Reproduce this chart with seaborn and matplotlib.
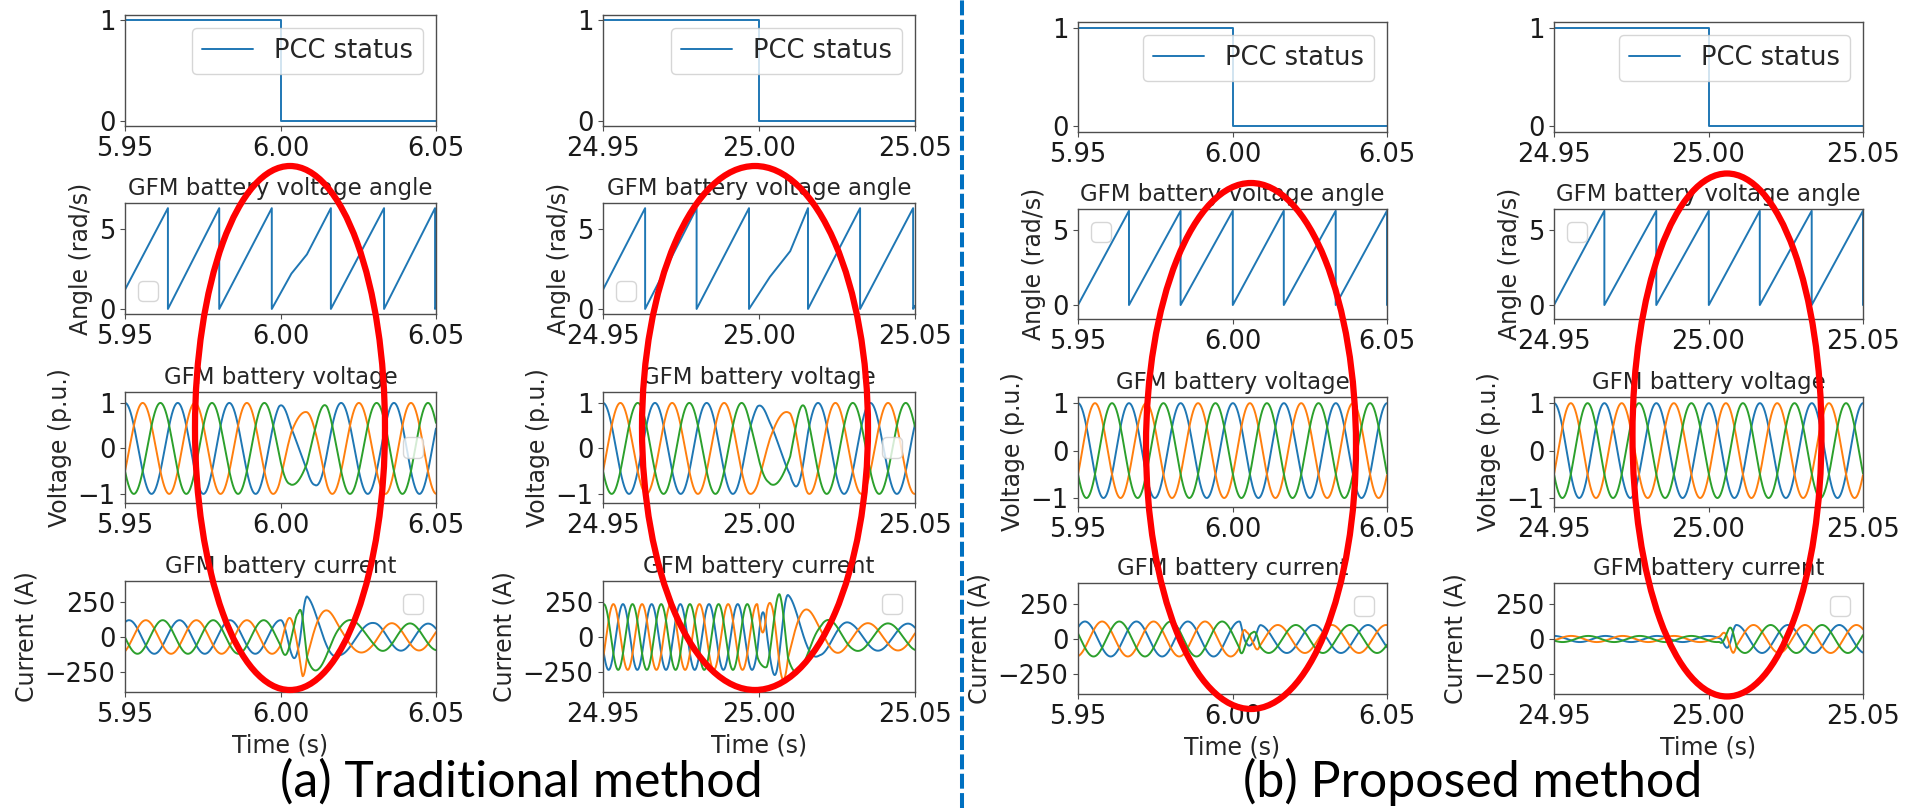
import matplotlib
matplotlib.use("Agg")
import matplotlib.pyplot as plt
import matplotlib.patches as mpatches
from matplotlib.lines import Line2D
from matplotlib.ticker import FormatStrFormatter
import numpy as np
import pandas as pd
import seaborn as sns

W, H = 1905, 808
TWO_PI = 6.28

# PCC breaker status around the islanding instant
pcc_a_t = [5.95, 6.00, 6.00, 6.05]
pcc_b_t = [24.95, 25.00, 25.00, 25.05]
pcc_val = [1, 1, 0, 0]

# GFM battery voltage angle (rad), corner points of the sawtooth
ang_a_t = [5.95, 5.9638, 5.9638, 5.9803, 5.9803, 5.9972, 5.9972, 6.0035, 6.0085,
           6.0162, 6.0162, 6.0333, 6.0333, 6.0497, 6.0497, 6.05]
ang_a = [1.2, 6.28, 0, 6.28, 0, 6.28, 0, 2.2, 3.4, 6.28, 0, 6.28, 0, 6.28, 0, 0.1]
ang_b_t = [24.95, 24.9635, 24.9635, 24.980, 24.980, 24.9968, 24.9968, 25.0035, 25.010,
           25.0157, 25.0157, 25.0324, 25.0324, 25.0494, 25.0494, 25.05]
ang_b = [1.2, 6.28, 0, 6.28, 0, 6.28, 0, 2.0, 3.6, 6.28, 0, 6.28, 0, 6.28, 0, 0.2]
ang_c_t = [5.95, 5.9665, 5.9665, 5.9832, 5.9832, 6.0001, 6.0001, 6.0166, 6.0166,
           6.0334, 6.0334, 6.05, 6.05]
ang_c = [0, 6.28, 0, 6.28, 0, 6.28, 0, 6.28, 0, 6.28, 0, 6.28, 0]
ang_d_t = [24.95, 24.9663, 24.9663, 24.9831, 24.9831, 25.0001, 25.0001, 25.0166, 25.0166,
           25.0334, 25.0334, 25.05, 25.05]
ang_d = [0, 6.28, 0, 6.28, 0, 6.28, 0, 6.28, 0, 6.28, 0, 6.28, 0]

# voltage magnitude (p.u.) read at a few instants, and angle offset of phase a
vamp_a_t = [5.95, 5.9995, 6.003, 6.011, 6.015, 6.05]
vamp_b_t = [24.95, 24.9995, 25.003, 25.011, 25.015, 25.05]
vamp_ab = [1.0, 1.0, 0.8, 0.8, 1.0, 1.0]
vamp_c_t = [5.95, 6.05]
vamp_d_t = [24.95, 25.05]
vamp_cd = [1.0, 1.0]
v_offset_trad = 1.2
v_offset_prop = 0.0

# battery current: phase of phase a (rad) and peak value (A) at read instants
cur_a_psi_t = [5.95, 6.000, 6.0085, 6.019, 6.030, 6.0475, 6.05]
cur_a_psi = [-0.5, 18.85, 25.13, 28.27, 31.42, 37.70, 38.6]
cur_a_amp_t = [5.95, 6.000, 6.0035, 6.0057, 6.0071, 6.0085, 6.0122, 6.0155, 6.019,
               6.023, 6.030, 6.05]
cur_a_amp = [120, 120, 140, 170, 280, 290, 230, 185, 130, 120, 100, 95]

# traditional at 25 s: negative-sequence ripple before, swing after
cur_b_pre_psi_t = [24.95, 25.0025]
cur_b_pre_psi = [-4.37, 31.5]
cur_b_pre_amp_t = [24.95, 25.0025]
cur_b_pre_amp = [235, 235]
cur_b_psi_t = [24.9995, 25.0093, 25.0194, 25.0285, 25.0478, 25.05]
cur_b_psi = [18.2, 25.13, 28.27, 31.42, 37.70, 38.5]
cur_b_amp_t = [24.9995, 25.004, 25.0066, 25.0093, 25.0125, 25.016, 25.0194, 25.023,
               25.03, 25.05]
cur_b_amp = [200, 250, 310, 300, 250, 190, 130, 120, 100, 95]
cur_b_blend = [24.9995, 25.0025]

cur_c_psi_t = [5.95, 6.0022, 6.0088, 6.05]
cur_c_psi = [-0.85, 18.85, 25.13, 39.9]
cur_c_amp_t = [5.95, 6.0025, 6.0045, 6.0065, 6.009, 6.05]
cur_c_amp = [125, 125, 50, 45, 100, 100]

cur_d_psi_t = [24.95, 25.004, 25.009, 25.05]
cur_d_psi = [0, 20.36, 25.13, 40.6]
cur_d_amp_t = [24.95, 25.0035, 25.008, 25.05]
cur_d_amp = [22, 22, 100, 100]

PAL = ['#1f77b4', '#ff7f0e', '#2ca02c']


def unwrap(ts, vs):
    out_t, out_v, off, prev = [], [], 0.0, None
    for t, v in zip(ts, vs):
        if prev is not None and v < prev - 3:
            off += TWO_PI
            prev = v
            continue
        out_t.append(t)
        out_v.append(v + off)
        prev = v
    return np.array(out_t), np.array(out_v)


def three_phase(amp, phase, seq=1):
    return [amp * np.cos(phase - seq * k * 2 * np.pi / 3) for k in range(3)]


def to_frame(t, vals):
    return pd.concat([pd.DataFrame({'t': t, 'y': v, 'phase': str(k)})
                      for k, v in enumerate(vals)], ignore_index=True)


def voltage(ang_t, ang, va_t, va, off, t0):
    t = np.linspace(t0, t0 + 0.1, 3000)
    ut, uv = unwrap(ang_t, ang)
    theta = np.interp(t, ut, uv)
    return to_frame(t, three_phase(np.interp(t, va_t, va), theta - off))


def current(psi_t, psi, amp_t, amp, t0, seq=1):
    t = np.linspace(t0, t0 + 0.1, 3000)
    return t, three_phase(np.interp(t, amp_t, amp), np.interp(t, psi_t, psi), seq)


# current frames
t, ia = current(cur_a_psi_t, cur_a_psi, cur_a_amp_t, cur_a_amp, 5.95)
cur_a_df = to_frame(t, ia)
t, ib_pre = current(cur_b_pre_psi_t, cur_b_pre_psi, cur_b_pre_amp_t, cur_b_pre_amp, 24.95, seq=-1)
t, ib_post = current(cur_b_psi_t, cur_b_psi, cur_b_amp_t, cur_b_amp, 24.95)
w = np.clip((t - cur_b_blend[0]) / (cur_b_blend[1] - cur_b_blend[0]), 0, 1)
cur_b_df = to_frame(t, [(1 - w) * p + w * q for p, q in zip(ib_pre, ib_post)])
t, ic = current(cur_c_psi_t, cur_c_psi, cur_c_amp_t, cur_c_amp, 5.95)
cur_c_df = to_frame(t, ic)
t, idd = current(cur_d_psi_t, cur_d_psi, cur_d_amp_t, cur_d_amp, 24.95)
cur_d_df = to_frame(t, idd)

volt_a_df = voltage(ang_a_t, ang_a, vamp_a_t, vamp_ab, v_offset_trad, 5.95)
volt_b_df = voltage(ang_b_t, ang_b, vamp_b_t, vamp_ab, v_offset_trad, 24.95)
volt_c_df = voltage(ang_c_t, ang_c, vamp_c_t, vamp_cd, v_offset_prop, 5.95)
volt_d_df = voltage(ang_d_t, ang_d, vamp_d_t, vamp_cd, v_offset_prop, 24.95)

columns = [
    dict(t0=5.95, pcc_t=pcc_a_t, ang_t=ang_a_t, ang=ang_a, volt=volt_a_df, cur=cur_a_df, side='L'),
    dict(t0=24.95, pcc_t=pcc_b_t, ang_t=ang_b_t, ang=ang_b, volt=volt_b_df, cur=cur_b_df, side='L'),
    dict(t0=5.95, pcc_t=pcc_a_t, ang_t=ang_c_t, ang=ang_c, volt=volt_c_df, cur=cur_c_df, side='R'),
    dict(t0=24.95, pcc_t=pcc_b_t, ang_t=ang_d_t, ang=ang_d, volt=volt_d_df, cur=cur_d_df, side='R'),
]

sns.set_style('ticks')
plt.rcParams['font.family'] = ['DejaVu Sans']
plt.rcParams['axes.edgecolor'] = '0.3'
plt.rcParams['axes.linewidth'] = 1.0
plt.rcParams['xtick.color'] = '0.3'
plt.rcParams['ytick.color'] = '0.3'
plt.rcParams['xtick.labelcolor'] = '0.1'
plt.rcParams['ytick.labelcolor'] = '0.1'
plt.rcParams['xtick.major.size'] = 3.5
plt.rcParams['ytick.major.size'] = 3.5
plt.rcParams['xtick.labelsize'] = 18.5
plt.rcParams['ytick.labelsize'] = 18.5

fig = plt.figure(figsize=(W / 100, H / 100), dpi=100)

cols_x = [(125, 436), (603, 915), (1078, 1387), (1554, 1863)]
rows_y = {'L': [(15, 126), (203, 314), (392, 503), (581, 692)],
          'R': [(22, 132), (209, 319), (397, 507), (583, 694)]}
ylims = {'L': [(-0.05, 1.05), (-0.314, 6.6), (-1.2, 1.24), (-393, 400)],
         'R': [(-0.06, 1.06), (-0.93, 6.4), (-1.19, 1.13), (-393, 400)]}
yticks = [[0, 1], [0, 5], [-1, 0, 1], [-250, 0, 250]]
titles = [None, 'GFM battery voltage angle', 'GFM battery voltage', 'GFM battery current']
ylabels = [None, 'Angle (rad/s)', 'Voltage (p.u.)', 'Current (A)']
empty_leg = {'L': [None, 'lower left', 'center right', 'upper right'],
             'R': [None, 'upper left', None, 'upper right']}


def make_ax(xr, yr):
    l, r = xr
    top, bot = yr
    return fig.add_axes([l / W, 1 - bot / H, (r - l) / W, (bot - top) / H])


for ci, col in enumerate(columns):
    side = col['side']
    for ri in range(4):
        ax = make_ax(cols_x[ci], rows_y[side][ri])
        if ri == 0:
            sns.lineplot(x=col['pcc_t'], y=pcc_val, ax=ax, color=PAL[0], lw=1.4,
                         estimator=None, sort=False, label='PCC status')
            ax.legend(loc='upper right', fontsize=18.5)
        elif ri == 1:
            sns.lineplot(x=col['ang_t'], y=col['ang'], ax=ax, color=PAL[0], lw=1.4,
                         estimator=None, sort=False)
        else:
            df = col['volt'] if ri == 2 else col['cur']
            sns.lineplot(data=df, x='t', y='y', hue='phase', palette=PAL, ax=ax,
                         lw=1.4, estimator=None, sort=False, legend=False)
        if ri > 0 and empty_leg[side][ri]:
            ax.legend(handles=[], loc=empty_leg[side][ri], fontsize=18.5)
        t0 = col['t0']
        ax.set_xlim(t0, t0 + 0.1)
        ax.set_xticks([t0, t0 + 0.05, t0 + 0.1])
        ax.xaxis.set_major_formatter(FormatStrFormatter('%.2f'))
        ax.set_ylim(*ylims[side][ri])
        ax.set_yticks(yticks[ri])
        ax.set_xlabel('Time (s)' if ri == 3 else '', fontsize=17, color='0.15')
        ax.set_ylabel(ylabels[ri] or '', fontsize=17, color='0.15')
        if titles[ri]:
            ax.set_title(titles[ri], fontsize=16.5, color='0.15')

# highlight ellipses around the switching instant
ellipses = [(290, 428, 190, 524), (755, 428, 226, 524), (1251, 446, 210, 526), (1727, 435, 189, 523)]
for cx, cy, ew, eh in ellipses:
    fig.add_artist(mpatches.Ellipse((cx / W, 1 - cy / H), ew / W, eh / H,
                                    transform=fig.transFigure, fill=False,
                                    ec='#ff0000', lw=4.5, zorder=10))

fig.add_artist(Line2D([962 / W, 962 / W], [0, 1], transform=fig.transFigure,
                      color='#0070C0', lw=2.9, dashes=(3.7, 1.1)))

fig.text(521 / W, 1 - 782 / H, '(a) Traditional method', ha='center', va='center',
         fontsize=36, color='black', family=['Lato', 'DejaVu Sans'])
fig.text(1473 / W, 1 - 782 / H, '(b) Proposed method', ha='center', va='center',
         fontsize=36, color='black', family=['Lato', 'DejaVu Sans'])

fig.savefig('out.png', dpi=100)
